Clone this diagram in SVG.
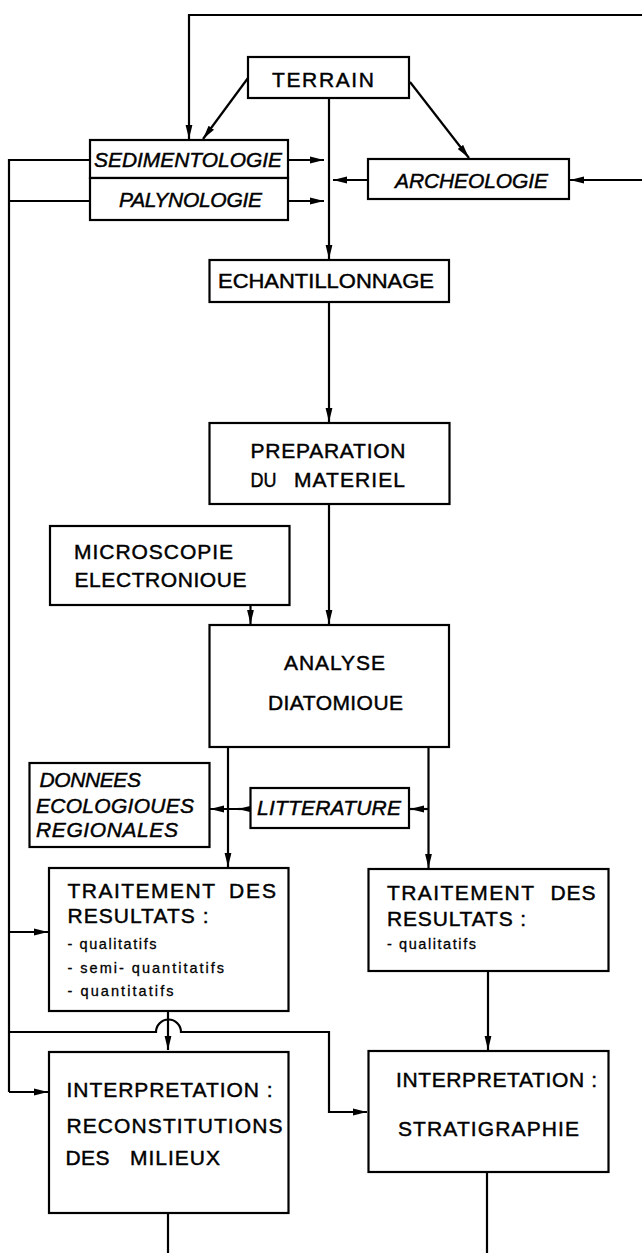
<svg xmlns="http://www.w3.org/2000/svg" width="642" height="1253" viewBox="0 0 642 1253">
<style>
.box{fill:#fff;stroke:#000;stroke-width:2.2}
.t{font-family:"Liberation Sans",Arial,sans-serif;font-size:21px;fill:#000;stroke:#000;stroke-width:0.45}
.i{font-style:italic}
.s{font-size:14.5px;stroke-width:0.3}
.c{fill:none;stroke:#000;stroke-width:2.2}
</style>
<defs>
<marker id="a" markerUnits="userSpaceOnUse" markerWidth="14" markerHeight="8" refX="14" refY="4" orient="auto">
<path d="M0,0.6 L14,4 L0,7.4 z" fill="#000"/>
</marker>
</defs>
<rect width="642" height="1253" fill="#fff"/>
<g id="connectors">
<path class="c" d="M642,15 H189 V139" marker-end="url(#a)"/>
<path class="c" d="M248,78 L203,139" marker-end="url(#a)"/>
<path class="c" d="M410,82 L469,158" marker-end="url(#a)"/>
<path class="c" d="M329,98 V259" marker-end="url(#a)"/>
<path class="c" d="M288,160 H324" marker-end="url(#a)"/>
<path class="c" d="M288,201 H324" marker-end="url(#a)"/>
<path class="c" d="M368,180 H333" marker-end="url(#a)"/>
<path class="c" d="M642,180 H570" marker-end="url(#a)"/>
<path class="c" d="M90,160 H9 V1092"/>
<path class="c" d="M90,201 H9"/>
<path class="c" d="M9,932 H48" marker-end="url(#a)"/>
<path class="c" d="M9,1092 H48" marker-end="url(#a)"/>
<path class="c" d="M9,1032 H156 A12.5,12.5 0 0 1 181,1032 H329 V1112 H367" marker-end="url(#a)"/>
<path class="c" d="M329,302 V422" marker-end="url(#a)"/>
<path class="c" d="M329,504 V624" marker-end="url(#a)"/>
<path class="c" d="M250.5,605 V624" marker-end="url(#a)"/>
<path class="c" d="M228,747 V867" marker-end="url(#a)"/>
<path class="c" d="M428.5,747 V868" marker-end="url(#a)"/>
<path class="c" d="M250.5,809 H210" marker-end="url(#a)"/>
<path class="c" d="M250.5,809 H238" marker-end="url(#a)"/>
<path class="c" d="M428.5,809 H410" marker-end="url(#a)"/>
<path class="c" d="M168,1011 V1050" marker-end="url(#a)"/>
<path class="c" d="M488,971 V1050" marker-end="url(#a)"/>
<path class="c" d="M168,1213 V1253"/>
<path class="c" d="M487,1172 V1253"/>
</g>
<g id="terrain">
<rect class="box" x="248" y="57" width="161" height="41"/>
<text class="t" x="272" y="87" textLength="102" lengthAdjust="spacing">TERRAIN</text>
</g>
<g id="sedimentologie">
<rect class="box" x="90" y="140" width="198" height="38"/>
<text class="t i" x="94" y="167" textLength="188" lengthAdjust="spacingAndGlyphs">SEDIMENTOLOGIE</text>
</g>
<g id="palynologie">
<rect class="box" x="90" y="178" width="198" height="42"/>
<text class="t i" x="119" y="207" textLength="143" lengthAdjust="spacing">PALYNOLOGIE</text>
</g>
<g id="archeologie">
<rect class="box" x="368" y="159" width="201" height="40"/>
<text class="t i" x="395" y="188" textLength="153" lengthAdjust="spacing">ARCHEOLOGIE</text>
</g>
<g id="echantillonnage">
<rect class="box" x="209.5" y="260" width="239.5" height="42"/>
<text class="t" x="218" y="288" textLength="216" lengthAdjust="spacingAndGlyphs">ECHANTILLONNAGE</text>
</g>
<g id="preparation">
<rect class="box" x="209.5" y="423" width="240" height="81"/>
<text class="t" x="250.5" y="458" textLength="155" lengthAdjust="spacing">PREPARATION</text>
<text class="t" y="487"><tspan x="250.5" textLength="26" lengthAdjust="spacingAndGlyphs">DU</tspan><tspan x="294" textLength="111" lengthAdjust="spacing">MATERIEL</tspan></text>
</g>
<g id="microscopie">
<rect class="box" x="50" y="526" width="239.5" height="79"/>
<text class="t" x="74" y="559" textLength="159" lengthAdjust="spacing">MICROSCOPIE</text>
<text class="t" x="74.5" y="587" textLength="172" lengthAdjust="spacing">ELECTRONIOUE</text>
</g>
<g id="analyse">
<rect class="box" x="209.5" y="625" width="239.5" height="122"/>
<text class="t" x="284" y="670" textLength="101" lengthAdjust="spacing">ANALYSE</text>
<text class="t" x="268" y="710" textLength="135" lengthAdjust="spacing">DIATOMIOUE</text>
</g>
<g id="donnees">
<rect class="box" x="29.5" y="763" width="180" height="84"/>
<text class="t i" x="39.5" y="787" textLength="101.5" lengthAdjust="spacing">DONNEES</text>
<text class="t i" x="36" y="812.5" textLength="158" lengthAdjust="spacing">ECOLOGIOUES</text>
<text class="t i" x="36" y="836.5" textLength="142" lengthAdjust="spacing">REGIONALES</text>
</g>
<g id="litterature">
<rect class="box" x="250.5" y="788" width="158.5" height="40"/>
<text class="t i" x="257" y="815" textLength="144" lengthAdjust="spacing">LITTERATURE</text>
</g>
<g id="traitement-gauche">
<rect class="box" x="49" y="868" width="239.5" height="143"/>
<text class="t" y="897.5"><tspan x="67.5" textLength="147.5" lengthAdjust="spacing">TRAITEMENT</tspan><tspan x="229" textLength="47" lengthAdjust="spacing">DES</tspan></text>
<text class="t" x="67.5" y="922.5" textLength="141" lengthAdjust="spacing">RESULTATS :</text>
<text class="t s" x="67.5" y="949" textLength="89" lengthAdjust="spacing">- qualitatifs</text>
<text class="t s" x="67.5" y="972.5" textLength="156.5" lengthAdjust="spacing">- semi- quantitatifs</text>
<text class="t s" x="67.5" y="996" textLength="106" lengthAdjust="spacing">- quantitatifs</text>
</g>
<g id="traitement-droite">
<rect class="box" x="368.5" y="869" width="240" height="102"/>
<text class="t" y="900"><tspan x="387" textLength="147" lengthAdjust="spacing">TRAITEMENT</tspan><tspan x="550.5" textLength="45" lengthAdjust="spacing">DES</tspan></text>
<text class="t" x="387" y="925.5" textLength="139" lengthAdjust="spacing">RESULTATS :</text>
<text class="t s" x="387" y="949" textLength="89" lengthAdjust="spacing">- qualitatifs</text>
</g>
<g id="interpretation-milieux">
<rect class="box" x="49" y="1052" width="239.5" height="161"/>
<text class="t" x="66.5" y="1097" textLength="206" lengthAdjust="spacing">INTERPRETATION :</text>
<text class="t" x="66.5" y="1133" textLength="216" lengthAdjust="spacing">RECONSTITUTIONS</text>
<text class="t" y="1165"><tspan x="65.5" textLength="44" lengthAdjust="spacing">DES</tspan><tspan x="130" textLength="90" lengthAdjust="spacing">MILIEUX</tspan></text>
</g>
<g id="interpretation-stratigraphie">
<rect class="box" x="368.5" y="1051" width="240" height="121"/>
<text class="t" x="396" y="1087" textLength="201" lengthAdjust="spacing">INTERPRETATION :</text>
<text class="t" x="398" y="1135.5" textLength="181" lengthAdjust="spacing">STRATIGRAPHIE</text>
</g>
</svg>
